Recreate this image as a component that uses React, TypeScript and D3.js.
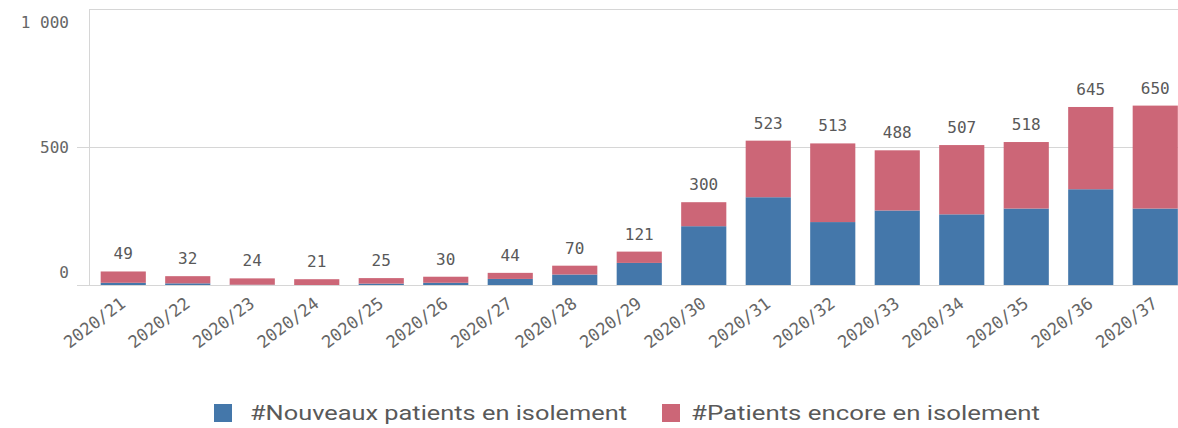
import React from "react";
import * as d3 from "d3";

const categories = ["2020/21","2020/22","2020/23","2020/24","2020/25","2020/26","2020/27","2020/28","2020/29","2020/30","2020/31","2020/32","2020/33","2020/34","2020/35","2020/36","2020/37"];
const totals = [49,32,24,21,25,30,44,70,121,300,523,513,488,507,518,645,650];
const nouveaux = [8,6,1,0,5,8,22,38,80,213,318,228,270,256,277,347,277];
const encore = totals.map((t, i) => t - nouveaux[i]);
const seriesNames = ["#Nouveaux patients en isolement", "#Patients encore en isolement"];
const colors = ["#4477aa", "#cc6677"];
const yTicks = [0, 500, 1000];
const yTickLabels = ["0", "500", "1 000"];

const W = 1178, H = 428;
const left = 90, top = 9, bottom = 285;

export default function App() {
  const x = d3.scaleBand<string>().domain(categories).range([91, 1187.5]).paddingInner(0.3).paddingOuter(0.15);
  const y = d3.scaleLinear().domain([0, 1000]).range([bottom, top]);
  const mono = "'DejaVu Sans Mono', monospace";
  const rows = categories.map((c, i) => ({ c, a: nouveaux[i], b: encore[i] }));
  const stack = d3.stack<any>().keys(["a", "b"])(rows);
  const legend = [
    { x: 214, tx: 250, len: 377 },
    { x: 662, tx: 691, len: 349 },
  ];
  return (
    <svg width={W} height={H} style={{ position: "absolute", left: 0, top: 0, display: "block" }}>
      <rect width={W} height={H} fill="#fff" />
      {yTicks.map((t) => (
        <line key={t} x1={t === 1000 ? left : 77} x2={W} y1={y(t) + 0.5} y2={y(t) + 0.5} stroke="#d6d6d6" strokeWidth={1} />
      ))}
      <line x1={left - 0.5} x2={left - 0.5} y1={top} y2={bottom + 0.5} stroke="#d6d6d6" />
      {yTicks.map((t, i) => (
        <text key={t} x={69} y={t === 1000 ? y(t) + 13 : t === 0 ? y(t) - 13 : y(t)} dy="0.35em" textAnchor="end"
          fontFamily={mono} fontSize={16} fill="#666">{yTickLabels[i]}</text>
      ))}
      {stack.map((s, si) => (
        <g key={si} fill={colors[si]}>
          {s.map((d: any, i: number) => (
            <rect key={i} x={x(categories[i])} width={x.bandwidth()} y={y(d[1])} height={Math.max(0, y(d[0]) - y(d[1]))} />
          ))}
        </g>
      ))}
      {categories.map((c, i) => (
        <text key={c} x={(x(c) as number) + x.bandwidth() / 2} y={y(totals[i]) - 12} textAnchor="middle"
          fontFamily={mono} fontSize={16} fill="#595959">{totals[i]}</text>
      ))}
      {categories.map((c) => {
        const cx = (x(c) as number) + x.bandwidth() / 2 - 4;
        const cy = 296;
        return (
          <text key={c} transform={`translate(${cx},${cy}) rotate(-37)`} textAnchor="end" dy="0.72em"
            fontFamily={mono} fontSize={17} fill="#666">{c}</text>
        );
      })}
      {seriesNames.map((n, i) => (
        <g key={n}>
          <rect x={legend[i].x} y={404} width={18} height={18} fill={colors[i]} />
          <text x={legend[i].tx} y={420} textLength={legend[i].len} lengthAdjust="spacingAndGlyphs"
            fontFamily="Roboto, 'Noto Sans', sans-serif" fontSize={21} fill="#595959">{n}</text>
        </g>
      ))}
    </svg>
  );
}
